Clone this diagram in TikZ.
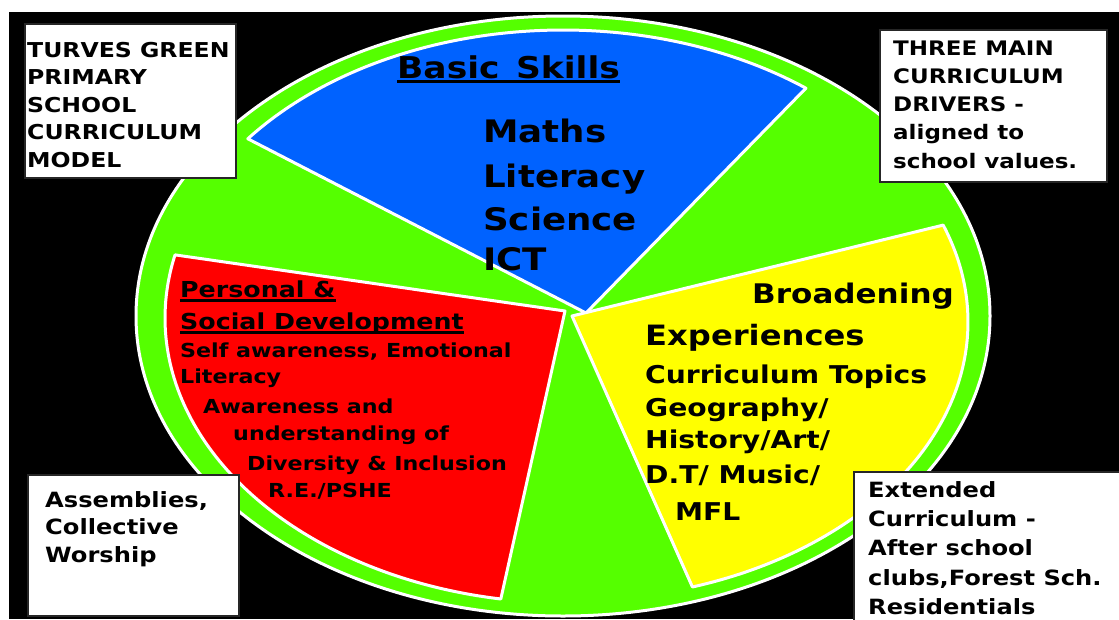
\documentclass[tikz,border=0pt]{standalone}
\usepackage{fontspec}
\newfontfamily\cf[FakeStretch=1.15]{DejaVu Sans}
\definecolor{pgreen}{HTML}{55FF00}
\definecolor{pblue}{HTML}{0062FF}
\definecolor{pred}{HTML}{FF0000}
\definecolor{pyellow}{HTML}{FFFF00}
\newcommand{\fs}[1]{\cf\bfseries\fontsize{#1}{#1}\selectfont}
\begin{document}
\begin{tikzpicture}[x=1pt,y=-1pt,
  txt/.style={anchor=base west, inner sep=0pt, text=black},
  boxtxt/.style={txt, font=\fs{20}},
  infobox/.style={fill=white, draw=black!85, line width=1.5pt},
  sector/.style={draw=white, line width=3pt, line join=round},
  uline/.style={line width=2.2pt, black}]
\useasboundingbox (0,0) rectangle (1119,619);
\clip (0,0) rectangle (1119,619);
\fill[white] (0,0) rectangle (1119,619);
\fill[black] (9,12) rectangle (1119,619);

% outer ellipse
\filldraw[fill=pgreen, draw=white, line width=3pt] (563,316) ellipse [x radius=427, y radius=300];

% sectors
\filldraw[sector, fill=pblue] (586,313) -- plot[domain=218:307.4, samples=90] ({563+400*cos(\x)}, {313+283*sin(\x)}) -- cycle;
\filldraw[sector, fill=pred] (565,311) -- plot[domain=99.6:192.8, samples=90] ({568+403*cos(\x)}, {318+285*sin(\x)}) -- cycle;
\filldraw[sector, fill=pyellow] (572,316) -- plot[domain=-20.4:72.4, samples=90] ({573+395*cos(\x)}, {322+278*sin(\x)}) -- cycle;

% blue texts
\node[txt, font=\fs{30}] (bs) at (397,78) {Basic\hspace{0.55em}Skills};
\draw[uline] ([yshift=-3.5pt]bs.base west) -- ([yshift=-3.5pt]bs.base east);
\node[txt, font=\fs{31}] (b1) at (483,142) {Maths};
\node[txt, font=\fs{31}] (b2) at (483,187) {Literacy};
\node[txt, font=\fs{31}] (b3) at (483,230) {Science};
\node[txt, font=\fs{31}] (b4) at (483,270) {ICT};

% red texts
\node[txt, font=\fs{22}] (r1) at (180,297) {Personal \&};
\draw[uline] ([yshift=-3.5pt]r1.base west) -- ([yshift=-3.5pt]r1.base east);
\node[txt, font=\fs{22}] (r2) at (180,329) {Social Development};
\draw[uline] ([yshift=-3.5pt]r2.base west) -- ([yshift=-3.5pt]r2.base east);
\node[txt, font=\fs{19.3}] (r3) at (180,357) {Self awareness, Emotional};
\node[txt, font=\fs{19.3}] (r4) at (180,383) {Literacy};
\node[txt, font=\fs{19.3}] (r5) at (203,413) {Awareness and};
\node[txt, font=\fs{19.3}] (r6) at (233,440) {understanding of};
\node[txt, font=\fs{19.3}] (r7) at (247,470) {Diversity \& Inclusion};
\node[txt, font=\fs{19.3}] (r8) at (268,497) {R.E./PSHE};

% yellow texts
\node[txt, font=\fs{27}] (y1) at (752,303) {Broadening};
\node[txt, font=\fs{28}] (y2) at (645,345) {Experiences};
\node[txt, font=\fs{24.5}] (y3) at (645,383) {Curriculum Topics};
\node[txt, font=\fs{24.5}] (y4) at (645,416) {Geography/};
\node[txt, font=\fs{24.5}] (y5) at (645,448) {History/Art/};
\node[txt, font=\fs{24.5}] (y6) at (645,483) {D.T/ Music/};
\node[txt, font=\fs{24.5}] (y7) at (675,520) {MFL};

% info boxes
\filldraw[infobox] (25,24) rectangle (236,178);
\foreach \t [count=\i from 0] in {TURVES GREEN, PRIMARY, SCHOOL, CURRICULUM, MODEL}
  \node[boxtxt, font=\fs{20.5}] (tl\i) at (27,{57+27.6*\i}) {\t};

\filldraw[infobox] (880,30) rectangle (1107,182);
\foreach \t [count=\i from 0] in {THREE MAIN, CURRICULUM, DRIVERS -, aligned to, school values.}
  \node[boxtxt] (tr\i) at (893,{55+28.25*\i}) {\t};

\filldraw[infobox] (28,475) rectangle (239,616);
\foreach \t [count=\i from 0] in {{Assemblies,}, Collective, Worship}
  \node[boxtxt, font=\fs{21}] (bl\i) at (45,{507+27.5*\i}) {\t};

\filldraw[infobox] (854,472) rectangle (1140,640);
\foreach \t [count=\i from 0] in {Extended, Curriculum -, After school, {clubs,Forest Sch.}, Residentials}
  \node[boxtxt, font=\fs{21}] (br\i) at (868,{497+29.4*\i}) {\t};
\end{tikzpicture}
\end{document}
